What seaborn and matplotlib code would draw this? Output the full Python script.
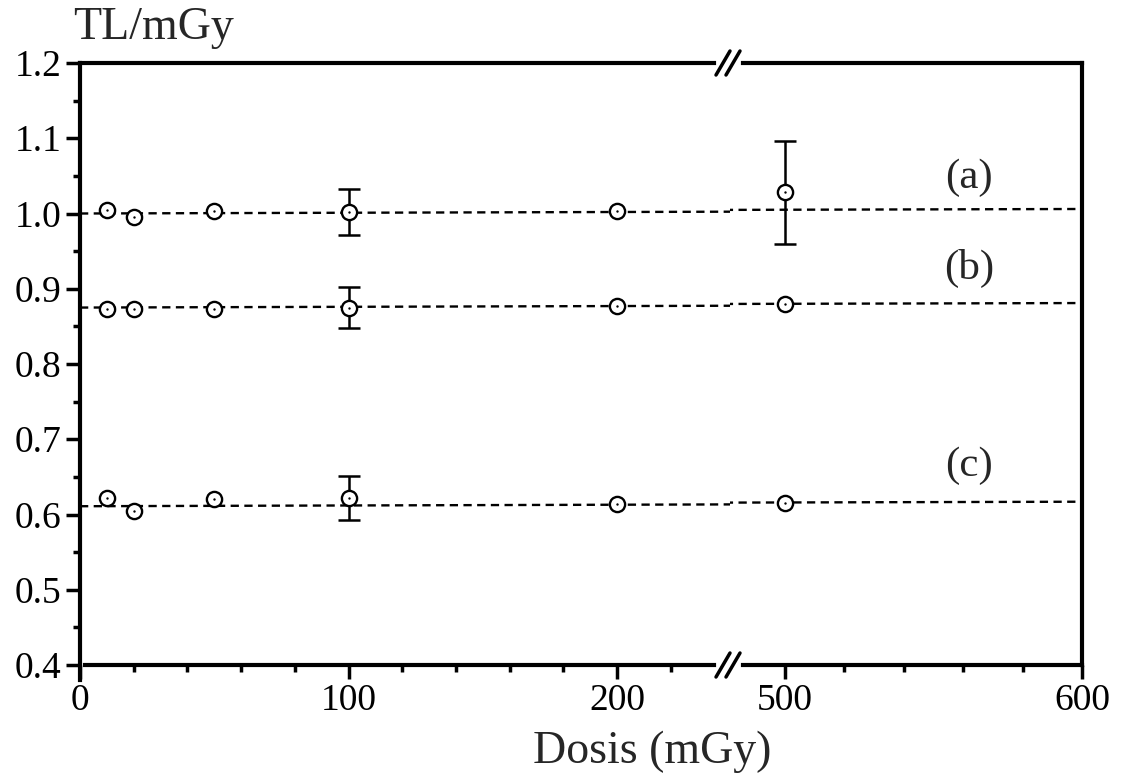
import numpy as np
import pandas as pd
import matplotlib
matplotlib.use("Agg")
import matplotlib.pyplot as plt
import seaborn as sns
from matplotlib.ticker import MultipleLocator, FixedLocator

# ---------------------------
# Data
# ---------------------------
dose = [10, 20, 50, 100, 200, 500]

tl_a = [1.004, 0.996, 1.003, 1.002, 1.003, 1.028]
err_a = [0, 0, 0, 0.030, 0, 0.068]

tl_b = [0.873, 0.873, 0.873, 0.875, 0.877, 0.880]
err_b = [0, 0, 0, 0.027, 0, 0]

tl_c = [0.622, 0.604, 0.621, 0.622, 0.614, 0.615]
err_c = [0, 0, 0, 0.029, 0, 0]

# dashed fit lines (constant response)
fit_x = [0, 600]
fit_a = [1.000, 1.006]
fit_b = [0.875, 0.881]
fit_c = [0.611, 0.617]

series_labels = ["(a)", "(b)", "(c)"]
label_x = [562, 562, 562]
label_y = [1.047, 0.927, 0.665]

xlabel = "Dosis (mGy)"
ylabel = "TL/mGy"

rows = []
for name, tl, err in zip(series_labels, [tl_a, tl_b, tl_c], [err_a, err_b, err_c]):
    for d, v, e in zip(dose, tl, err):
        rows.append({"dose": d, "tl": v, "err": e, "serie": name})
df = pd.DataFrame(rows)

# ---------------------------
# Style
# ---------------------------
sns.set_theme(style="ticks")
plt.rcParams['font.family'] = ['Liberation Serif', 'DejaVu Serif']

fig = plt.figure(figsize=(11.26, 7.81), dpi=100)
W, H = 1126, 781
bottom = (H - 665) / H
height = (665 - 63) / H
ax1 = fig.add_axes([80 / W, bottom, (730 - 80) / W, height])
ax2 = fig.add_axes([730 / W, bottom, (1082 - 730) / W, height], sharey=ax1)

lw_spine = 3.0
for ax, xlim in [(ax1, (0, 242)), (ax2, (481.5, 600))]:
    ax.set_xlim(*xlim)
    ax.set_ylim(0.4, 1.2)
    ax.set_facecolor("white")

    # fit lines
    for fy in [fit_a, fit_b, fit_c]:
        sns.lineplot(x=fit_x, y=fy, ax=ax, color="black", lw=1.7,
                     linestyle=(0, (3.5, 2.3)), zorder=1)

    # error bars
    sub = df[df["err"] > 0]
    ax.errorbar(sub["dose"], sub["tl"], yerr=sub["err"], fmt="none",
                ecolor="black", elinewidth=1.8, capsize=8, capthick=1.8, zorder=2)

    # open circle markers with centre dot
    sns.scatterplot(data=df, x="dose", y="tl", ax=ax, marker="o", s=120,
                    facecolor="white", edgecolor="black", linewidth=1.7,
                    zorder=3, legend=False)
    sns.scatterplot(data=df, x="dose", y="tl", ax=ax, marker="o", s=3,
                    color="black", linewidth=0, zorder=4, legend=False)

    ax.set_xlabel("")
    ax.set_ylabel("")
    for sp in ax.spines.values():
        sp.set_linewidth(lw_spine)
        sp.set_color("black")
    ax.tick_params(axis="both", which="major", direction="out", length=10,
                   width=2.5, labelsize=27, color="black", labelcolor="black")
    ax.tick_params(axis="both", which="minor", direction="out", length=5,
                   width=2.5, color="black")

# left part
ax1.spines["right"].set_visible(False)
ax1.xaxis.set_major_locator(FixedLocator([0, 100, 200]))
ax1.xaxis.set_minor_locator(FixedLocator([20, 40, 60, 80, 120, 140, 160, 180, 220]))
ax1.yaxis.set_major_locator(MultipleLocator(0.1))
ax1.yaxis.set_minor_locator(MultipleLocator(0.05))
ax1.yaxis.set_major_formatter(matplotlib.ticker.FormatStrFormatter("%.1f"))
ax1.spines["bottom"].set_bounds(2, 236)
ax1.spines["top"].set_bounds(0, 236)
ax1.spines["left"].set_bounds(0.38, 1.2)

# right part
ax2.spines["left"].set_visible(False)
ax2.tick_params(axis="y", which="both", left=False, labelleft=False)
ax2.xaxis.set_major_locator(FixedLocator([500, 600]))
ax2.xaxis.set_minor_locator(FixedLocator([520, 540, 560, 580]))
ax2.spines["bottom"].set_bounds(486, 600)
ax2.spines["top"].set_bounds(486, 600)

# series labels
for lab, lx, ly in zip(series_labels, label_x, label_y):
    ax2.text(lx, ly, lab, fontsize=31, ha="center", va="center")

# axis break marks
for yb in [1 - (665 / H), 1 - (63 / H)]:
    for dx in [-6, 4]:
        fig.add_artist(plt.Line2D([(722 + dx) / W, (736 + dx) / W],
                                  [yb - 12 / H, yb + 12 / H],
                                  color="black", lw=2.5))

fig.text(73 / W, 1 - 28 / H, ylabel, fontsize=33, ha="left", va="center")
fig.text(652 / W, 1 - 752 / H, xlabel, fontsize=33, ha="center", va="center")

fig.savefig("out.png", dpi=100, facecolor="white")
